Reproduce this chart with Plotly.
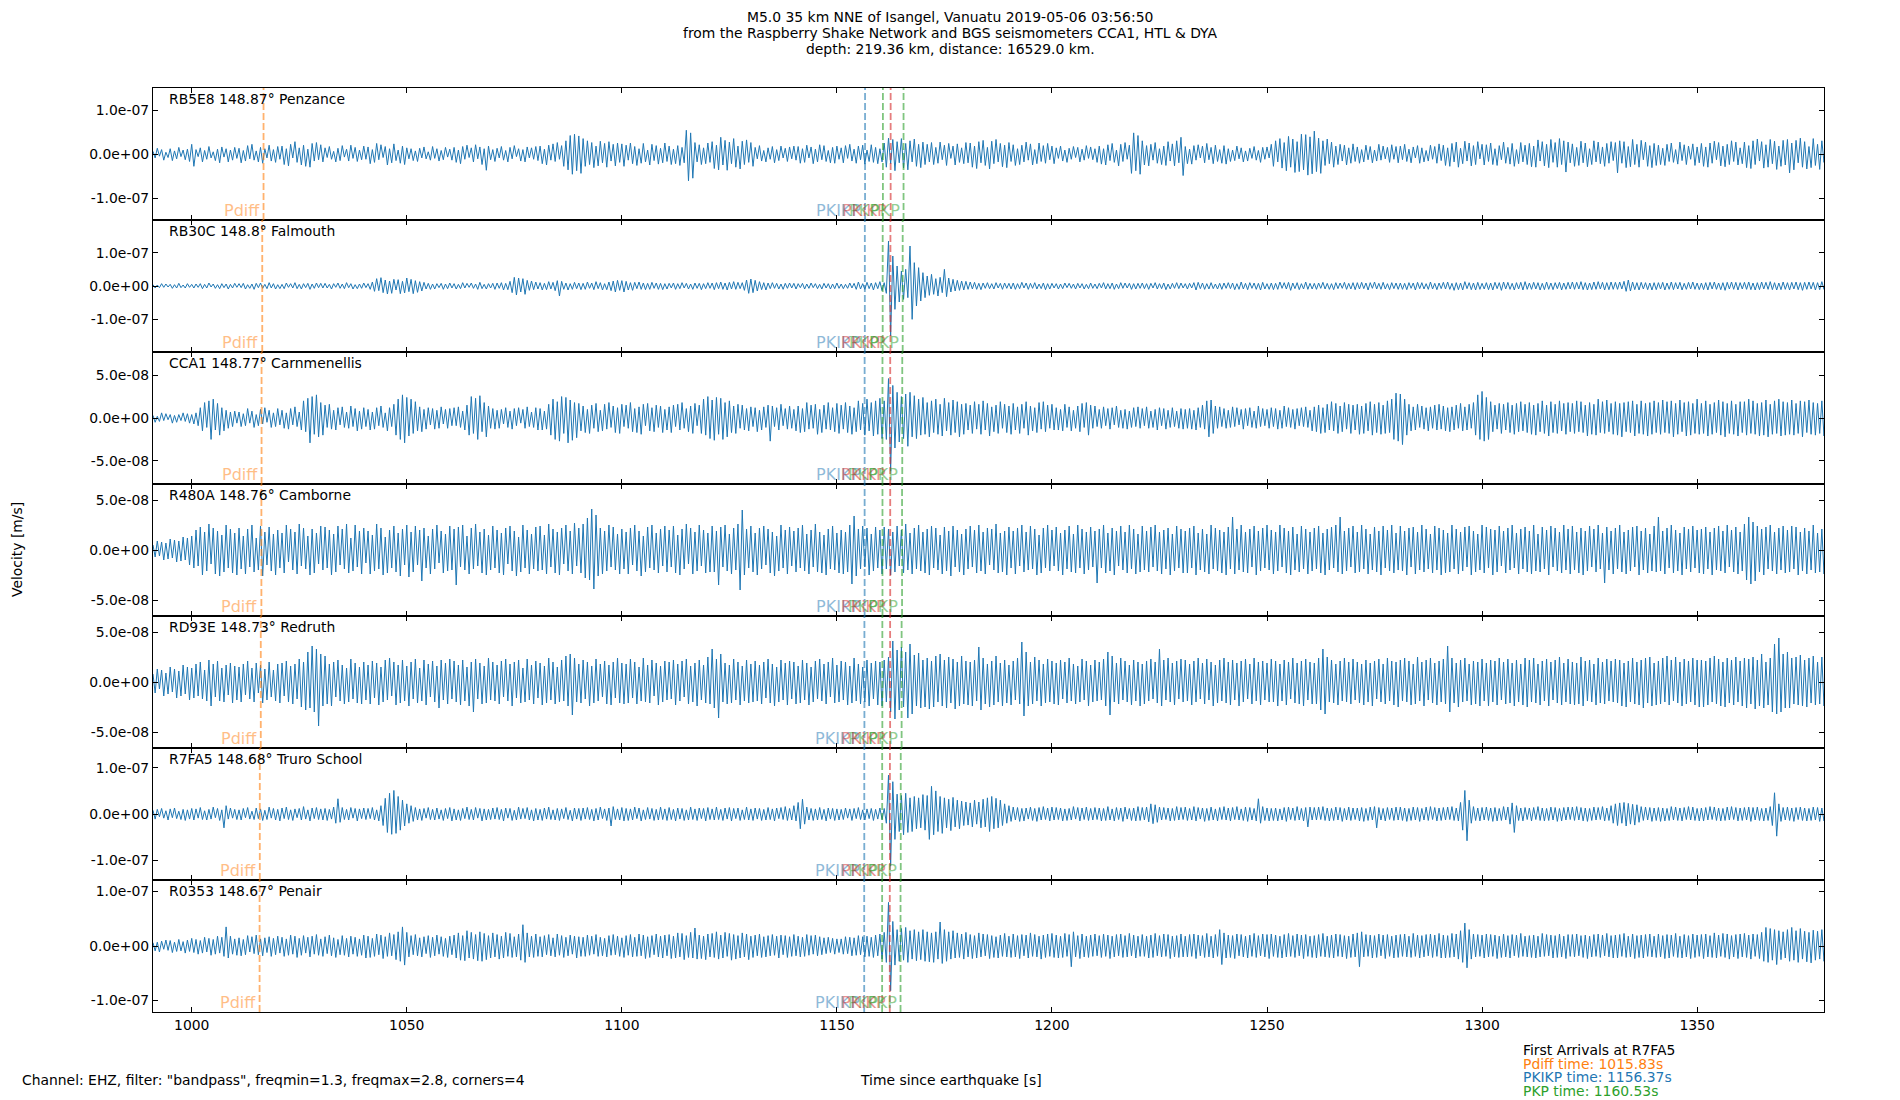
import numpy as np
import plotly.graph_objects as go
from plotly.subplots import make_subplots

# stations, top panel to bottom panel
stations = ["RB5E8", "RB30C", "CCA1", "R480A", "RD93E", "R7FA5", "R0353"]
distances = ["148.87", "148.8", "148.77", "148.76", "148.73", "148.68", "148.67"]
places = ["Penzance", "Falmouth", "Carnmenellis", "Camborne", "Redruth", "Truro School", "Penair"]

# first sample time [s]; values are half a second apart
t_start = 991
dt = 0.5

# filtered velocity peaks [nm/s], one row = 10 s
rb5e8 = [
    6, -9, 13, -5, 10, -14, 4, -8, 12, -15, 7, -11, 15, -6, 9, -13, 11, -17, 22, -28,
    10, -6, 14, -18, 8, -12, 17, -9, 5, -15, 11, -20, 16, -7, 12, -18, 9, -14, 15, -10,
    13, -20, 8, -16, 19, -11, 22, -14, 7, -18, 15, -21, 12, -9, 20, -16, 10, -19, 17, -12,
    18, -24, 12, -27, 22, -9, 28, -19, 14, -25, 20, -28, 11, -30, 24, -16, 26, -13, 21, -18,
    14, -8, 17, -12, 6, -18, 13, -15, 19, -7, 11, -16, 20, -10, 15, -17, 9, -13, 18, -12,
    16, -22, 10, -19, 24, -13, 21, -8, 17, -25, 12, -20, 23, -15, 9, -21, 18, -24, 14, -11,
    12, -15, 7, -17, 13, -9, 16, -11, 5, -14, 17, -10, 12, -16, 8, -13, 15, -7, 11, -14,
    15, -19, 9, -22, 17, -12, 20, -8, 14, -18, 21, -11, 16, -24, 12, -37, 18, -13, 10, -17,
    13, -9, 17, -14, 8, -18, 15, -11, 19, -6, 12, -16, 10, -18, 16, -9, 14, -12, 17, -15,
    18, -22, 11, -25, 20, -14, 23, -17, 26, -12, 19, -28, 30, -36, 42, -46, 45, -38, 41, -44,
    35, -28, 30, -24, 26, -31, 18, -27, 29, -20, 24, -30, 28, -16, 22, -27, 25, -19, 23, -28,
    20, -14, 25, -22, 17, -26, 12, -21, 24, -18, 9, -25, 22, -15, 19, -23, 13, -20, 25, -17,
    18, -24, 11, -22, 19, -26, 15, -20, 54, -61, 48, -55, 26, -18, 21, -24, 14, -22, 25, -19,
    28, -33, 20, -36, 38, -25, 31, -37, 27, -22, 35, -30, 18, -34, 29, -24, 32, -19, 26, -28,
    15, -11, 19, -16, 8, -18, 14, -12, 17, -20, 10, -15, 18, -9, 13, -17, 16, -11, 18, -14,
    17, -21, 12, -19, 20, -9, 16, -22, 11, -18, 21, -13, 19, -17, 8, -20, 15, -21, 18, -12,
    14, -20, 19, -10, 22, -16, 11, -21, 18, -13, 20, -23, 9, -17, 21, -19, 15, -22, 12, -18,
    25, -30, 36, -22, 33, -38, 28, -20, 35, -32, 24, -36, 30, -18, 34, -28, 22, -31, 27, -24,
    22, -18, 26, -24, 15, -21, 27, -13, 20, -26, 24, -10, 18, -25, 23, -19, 14, -22, 26, -20,
    25, -30, 18, -33, 28, -20, 31, -26, 15, -34, 29, -22, 33, -18, 24, -29, 20, -31, 26, -17,
    21, -26, 12, -24, 20, -18, 27, -14, 23, -25, 10, -22, 25, -17, 19, -21, 24, -13, 18, -22,
    14, -10, 18, -16, 9, -19, 13, -12, 17, -8, 15, -18, 11, -14, 19, -10, 16, -13, 12, -19,
    18, -23, 12, -25, 21, -15, 24, -19, 9, -27, 22, -17, 26, -12, 20, -44, 48, -38, 42, -46,
    30, -25, 19, -27, 22, -14, 26, -21, 12, -24, 18, -26, 28, -16, 23, -27, 30, -20, 38, -49,
    17, -22, 11, -23, 19, -14, 21, -9, 18, -20, 24, -13, 15, -22, 20, -17, 10, -21, 19, -23,
    12, -17, 9, -15, 18, -11, 14, -18, 7, -16, 13, -10, 17, -14, 8, -19, 15, -12, 16, -9,
    22, -28, 30, -18, 35, -32, 26, -38, 40, -30, 34, -42, 28, -40, 45, -36, 44, -48, 39, -45,
    52, -40, 36, -44, 30, -26, 34, -22, 27, -30, 18, -24, 22, -16, 20, -25, 14, -21, 23, -17,
    16, -21, 10, -18, 20, -13, 17, -20, 9, -16, 22, -14, 18, -11, 15, -19, 21, -12, 17, -20,
    18, -13, 22, -17, 11, -20, 16, -9, 19, -21, 14, -18, 8, -16, 20, -12, 17, -21, 23, -15,
    20, -26, 14, -28, 24, -18, 27, -30, 13, -22, 29, -16, 25, -27, 19, -24, 28, -11, 22, -25,
    21, -17, 25, -24, 12, -26, 19, -13, 27, -21, 15, -23, 24, -28, 10, -22, 26, -18, 20, -24,
    24, -29, 18, -30, 32, -16, 28, -27, 22, -31, 33, -19, 26, -30, 35, -24, 30, -41, 27, -20,
    23, -28, 15, -26, 29, -20, 25, -29, 12, -24, 30, -18, 27, -22, 16, -28, 24, -21, 28, -15,
    26, -43, 30, -21, 28, -31, 17, -29, 33, -24, 22, -30, 31, -13, 27, -28, 19, -31, 24, -26,
    20, -24, 13, -26, 22, -17, 25, -19, 10, -23, 27, -15, 21, -24, 18, -12, 23, -26, 16, -20,
    24, -28, 16, -30, 25, -21, 29, -13, 26, -27, 18, -29, 22, -24, 30, -17, 27, -25, 14, -22,
    27, -31, 19, -33, 30, -24, 34, -16, 28, -32, 21, -30, 33, -22, 29, -35, 18, -28, 31, -25,
    33, -43, 25, -36, 31, -20, 36, -30, 28, -34, 17, -31, 35, -26, 22, -35, 30, -19, 33, -27,
]

rb30c = [
    4, -6, 3, -5, 7, -4, 6, -3, 5, -7, 4, -6, 8, -5, 3, -6, 7, -4, 5, -6,
    6, -4, 7, -8, 5, -6, 9, -3, 6, -7, 4, -8, 7, -5, 6, -9, 5, -6, 8, -4,
    7, -5, 8, -9, 4, -7, 6, -10, 8, -5, 9, -7, 5, -8, 10, -6, 7, -9, 4, -8,
    5, -8, 9, -4, 7, -6, 10, -8, 5, -9, 7, -5, 8, -10, 6, -7, 9, -5, 8, -6,
    8, -6, 5, -9, 7, -4, 9, -7, 6, -8, 10, -5, 7, -9, 4, -8, 6, -7, 9, -5,
    7, -10, 12, -16, 22, -14, 25, -20, 18, -24, 15, -22, 20, -12, 19, -23, 14, -21, 24, -17,
    20, -23, 16, -19, 13, -15, 11, -9, 8, -10, 6, -9, 7, -5, 8, -10, 6, -8, 9, -6,
    7, -9, 5, -8, 10, -6, 8, -4, 9, -7, 6, -10, 11, -8, 5, -9, 7, -6, 8, -10,
    9, -7, 10, -12, 8, -11, 14, -20, 26, -27, 24, -18, 22, -25, 17, -13, 15, -11, 12, -9,
    10, -12, 8, -11, 13, -9, 11, -14, 16, -30, 14, -10, 9, -12, 7, -10, 11, -8, 9, -11,
    8, -10, 12, -7, 9, -11, 13, -8, 10, -12, 7, -11, 12, -14, 15, -18, 17, -13, 16, -18,
    14, -12, 10, -13, 11, -8, 12, -10, 9, -11, 8, -10, 11, -7, 9, -10, 8, -11, 7, -9,
    8, -6, 9, -10, 7, -8, 10, -6, 8, -9, 6, -10, 9, -7, 8, -11, 7, -8, 10, -7,
    9, -11, 10, -8, 12, -10, 9, -12, 11, -9, 13, -10, 11, -8, 10, -13, 18, -22, 21, -20,
    17, -15, 13, -11, 10, -12, 9, -8, 10, -7, 8, -9, 6, -10, 8, -7, 9, -6, 8, -9,
    7, -5, 8, -9, 6, -7, 9, -5, 7, -8, 5, -9, 8, -6, 7, -9, 6, -8, 9, -7,
    6, -8, 5, -7, 9, -6, 8, -10, 12, -9, 7, -10, 11, -8, 9, -12, 10, -8, 13, -14,
    10, -22, 135, -150, 90, -70, 60, -48, 45, -40, 50, -35, 120, -100, 70, -60, 55, -45, 40, -35,
    30, -28, 35, -25, 22, -30, 26, -20, 50, -32, 24, -18, 20, -15, 17, -13, 15, -12, 14, -10,
    12, -9, 11, -10, 8, -11, 9, -7, 10, -8, 7, -9, 10, -6, 8, -10, 9, -7, 8, -9,
    9, -10, 7, -8, 11, -6, 9, -10, 8, -7, 10, -9, 6, -8, 9, -11, 7, -9, 8, -6,
    7, -9, 6, -8, 9, -5, 8, -7, 6, -9, 8, -6, 7, -9, 5, -8, 9, -7, 6, -8,
    8, -6, 10, -9, 7, -8, 9, -10, 6, -8, 10, -7, 9, -6, 8, -10, 7, -9, 8, -7,
    9, -8, 7, -10, 8, -6, 10, -9, 7, -8, 9, -11, 6, -9, 8, -7, 10, -8, 9, -6,
    7, -9, 8, -6, 10, -12, 11, -8, 9, -10, 7, -9, 10, -8, 6, -9, 8, -10, 9, -7,
    10, -8, 9, -11, 7, -10, 12, -9, 8, -11, 10, -7, 9, -10, 8, -12, 11, -9, 7, -10,
    9, -11, 8, -10, 12, -7, 10, -9, 11, -13, 9, -8, 10, -11, 7, -9, 12, -10, 8, -9,
    8, -10, 9, -7, 11, -9, 8, -10, 7, -11, 10, -8, 9, -7, 11, -10, 8, -9, 10, -11,
    10, -9, 11, -8, 9, -12, 10, -7, 12, -9, 8, -10, 11, -9, 7, -11, 10, -8, 9, -10,
    9, -10, 8, -11, 10, -7, 9, -12, 11, -8, 10, -9, 7, -10, 12, -9, 8, -11, 9, -8,
    11, -9, 12, -10, 8, -13, 10, -11, 9, -12, 13, -8, 10, -11, 9, -12, 11, -10, 8, -9,
    10, -11, 9, -12, 11, -8, 10, -13, 12, -9, 11, -10, 8, -12, 10, -9, 11, -12, 13, -10,
    9, -10, 11, -9, 10, -12, 8, -11, 12, -10, 9, -11, 10, -8, 11, -12, 9, -10, 11, -9,
    12, -10, 11, -9, 13, -11, 10, -12, 9, -11, 12, -10, 13, -9, 11, -12, 10, -11, 12, -10,
    11, -10, 12, -9, 14, -16, 18, -15, 12, -11, 10, -12, 11, -9, 10, -11, 9, -12, 10, -11,
    10, -9, 11, -12, 9, -10, 12, -11, 10, -9, 11, -12, 8, -10, 11, -9, 12, -10, 9, -11,
    9, -11, 10, -12, 11, -9, 12, -10, 9, -11, 10, -13, 11, -9, 12, -10, 11, -12, 10, -9,
    11, -10, 12, -11, 9, -12, 10, -11, 12, -9, 11, -10, 13, -11, 10, -12, 9, -11, 12, -10,
    10, -12, 11, -9, 12, -11, 10, -13, 11, -10, 12, -9, 11, -12, 10, -11, 13, -10, 9, -11,
]

cca1 = [
    3, -5, 2, -4, 6, -3, 5, -2, 4, -6, 3, -5, 4, -3, 6, -4, 5, -6, 4, -7,
    6, -9, 12, -15, 18, -11, 20, -25, 22, -14, 17, -20, 12, -15, 9, -12, 7, -10, 8, -6,
    7, -10, 5, -9, 11, -6, 8, -11, 4, -9, 10, -7, 12, -5, 9, -11, 6, -10, 11, -8,
    9, -12, 6, -13, 11, -8, 13, -10, 7, -14, 20, -16, 23, -29, 25, -19, 27, -22, 18, -20,
    15, -11, 16, -13, 9, -14, 12, -8, 13, -11, 7, -12, 14, -10, 11, -15, 8, -13, 12, -10,
    10, -14, 7, -13, 12, -9, 14, -11, 6, -15, 12, -10, 16, -20, 22, -25, 27, -29, 24, -21,
    22, -18, 19, -15, 13, -16, 10, -13, 12, -8, 11, -13, 9, -12, 13, -7, 10, -12, 11, -9,
    12, -9, 13, -11, 8, -14, 15, -20, 25, -18, 23, -25, 26, -16, 18, -22, 14, -12, 11, -13,
    9, -12, 10, -7, 12, -11, 8, -13, 11, -9, 12, -6, 10, -12, 13, -10, 7, -11, 12, -14,
    11, -14, 8, -13, 16, -20, 22, -25, 19, -27, 25, -18, 24, -29, 21, -26, 18, -23, 17, -15,
    14, -17, 10, -18, 15, -12, 17, -16, 9, -15, 16, -13, 18, -11, 14, -17, 12, -18, 16, -10,
    15, -12, 18, -16, 11, -17, 13, -19, 16, -9, 17, -15, 12, -16, 15, -11, 14, -17, 10, -14,
    13, -17, 15, -10, 16, -14, 18, -12, 11, -16, 14, -18, 17, -9, 15, -18, 22, -20, 25, -24,
    21, -26, 24, -19, 23, -25, 18, -22, 20, -17, 14, -18, 16, -12, 15, -14, 11, -15, 13, -10,
    12, -16, 9, -14, 13, -11, 15, -27, 14, -10, 12, -14, 16, -9, 11, -13, 14, -12, 10, -15,
    14, -17, 11, -16, 18, -13, 15, -12, 16, -19, 10, -17, 15, -13, 18, -14, 12, -16, 17, -18,
    15, -13, 18, -17, 14, -19, 12, -16, 20, -14, 17, -20, 22, -15, 18, -21, 20, -19, 23, -24,
    20, -25, 46, -62, 38, -35, 30, -28, 25, -24, 28, -33, 30, -22, 26, -24, 22, -20, 24, -19,
    18, -22, 20, -17, 22, -19, 16, -21, 23, -15, 18, -20, 21, -17, 19, -22, 16, -19, 17, -14,
    15, -18, 19, -13, 16, -19, 20, -14, 17, -21, 13, -16, 15, -18, 19, -12, 16, -17, 14, -19,
    17, -14, 13, -18, 16, -12, 19, -20, 14, -15, 12, -17, 18, -13, 19, -16, 15, -12, 16, -14,
    12, -14, 10, -15, 16, -11, 13, -15, 9, -12, 14, -16, 17, -11, 18, -20, 15, -12, 14, -10,
    10, -12, 13, -9, 11, -13, 12, -8, 14, -11, 9, -12, 10, -13, 8, -11, 12, -10, 13, -12,
    11, -9, 13, -12, 8, -11, 10, -14, 12, -9, 11, -13, 9, -11, 12, -10, 8, -12, 11, -13,
    10, -12, 11, -13, 9, -14, 12, -11, 15, -13, 20, -22, 21, -18, 14, -12, 13, -10, 11, -12,
    9, -11, 13, -10, 12, -8, 10, -13, 11, -9, 12, -11, 8, -12, 14, -10, 11, -9, 10, -12,
    12, -10, 11, -13, 9, -12, 14, -10, 12, -11, 10, -13, 11, -9, 12, -10, 13, -11, 9, -15,
    13, -16, 15, -18, 12, -17, 16, -14, 19, -15, 17, -18, 14, -16, 18, -13, 16, -18, 15, -14,
    16, -19, 14, -18, 17, -15, 19, -20, 16, -17, 18, -19, 15, -18, 20, -17, 22, -25, 29, -27,
    28, -31, 22, -20, 16, -15, 13, -14, 16, -11, 14, -13, 12, -15, 13, -12, 15, -14, 16, -13,
    14, -15, 12, -16, 13, -14, 15, -12, 17, -15, 13, -14, 16, -12, 18, -20, 27, -25, 31, -27,
    24, -25, 19, -16, 15, -13, 17, -18, 16, -14, 18, -17, 15, -19, 17, -16, 19, -15, 16, -17,
    18, -19, 15, -20, 17, -16, 20, -18, 15, -21, 19, -17, 16, -18, 20, -15, 17, -19, 18, -16,
    17, -18, 20, -16, 19, -17, 15, -21, 18, -19, 16, -20, 22, -17, 19, -18, 21, -16, 17, -19,
    19, -20, 17, -22, 18, -16, 19, -17, 20, -21, 16, -18, 20, -19, 17, -21, 18, -19, 20, -17,
    18, -19, 21, -17, 19, -18, 20, -22, 17, -19, 21, -16, 18, -21, 19, -20, 17, -18, 22, -19,
    17, -18, 20, -21, 16, -19, 18, -17, 21, -20, 19, -22, 17, -18, 20, -19, 16, -21, 19, -17,
    19, -20, 22, -18, 20, -19, 17, -21, 18, -20, 21, -22, 16, -19, 20, -18, 22, -21, 19, -20,
    18, -19, 21, -20, 17, -18, 20, -22, 19, -17, 21, -19, 18, -20, 17, -18, 20, -21, 19, -18,
]

r480a = [
    5, -7, 9, -6, 8, -10, 7, -9, 11, -8, 10, -12, 9, -11, 13, -10, 12, -15, 14, -18,
    20, -16, 23, -25, 18, -21, 26, -14, 22, -24, 19, -26, 15, -22, 25, -18, 21, -23, 17, -25,
    22, -19, 14, -24, 21, -17, 25, -22, 12, -20, 24, -26, 18, -15, 23, -21, 16, -25, 20, -18,
    17, -23, 25, -12, 21, -20, 18, -24, 26, -16, 22, -19, 14, -25, 21, -23, 17, -14, 24, -20,
    23, -18, 20, -25, 16, -22, 24, -15, 21, -19, 26, -23, 12, -21, 25, -17, 19, -24, 22, -13,
    19, -24, 15, -21, 26, -19, 22, -25, 13, -23, 20, -18, 24, -22, 17, -26, 21, -15, 25, -27,
    18, -22, 24, -15, 20, -31, 22, -18, 14, -24, 21, -19, 25, -13, 19, -23, 16, -21, 24, -20,
    21, -35, 23, -17, 25, -20, 14, -24, 22, -19, 26, -16, 18, -23, 21, -25, 15, -20, 24, -18,
    20, -23, 17, -25, 22, -14, 24, -21, 19, -26, 13, -22, 25, -18, 20, -24, 16, -19, 23, -21,
    24, -20, 15, -24, 26, -17, 21, -23, 18, -25, 22, -14, 25, -21, 19, -24, 27, -16, 22, -23,
    26, -28, 32, -30, 41, -39, 35, -26, 22, -24, 19, -21, 25, -17, 23, -20, 16, -24, 21, -19,
    18, -24, 22, -15, 25, -21, 19, -26, 14, -22, 23, -18, 25, -20, 17, -23, 21, -16, 24, -22,
    20, -17, 24, -23, 15, -25, 21, -19, 26, -14, 22, -24, 18, -21, 25, -16, 20, -23, 17, -22,
    24, -22, 19, -35, 23, -17, 25, -21, 16, -24, 22, -20, 26, -40, 40, -25, 21, -18, 24, -22,
    17, -25, 22, -19, 24, -15, 21, -23, 18, -26, 14, -21, 25, -18, 20, -24, 23, -16, 19, -22,
    22, -18, 25, -21, 16, -24, 20, -17, 26, -22, 18, -23, 15, -25, 21, -19, 24, -20, 17, -23,
    20, -24, 18, -22, 25, -34, 34, -26, 21, -19, 24, -17, 22, -25, 16, -21, 23, -18, 20, -24,
    23, -19, 21, -25, 18, -22, 24, -16, 20, -23, 26, -20, 17, -24, 22, -19, 25, -21, 18, -23,
    21, -25, 24, -18, 22, -20, 15, -24, 23, -21, 19, -26, 24, -17, 20, -22, 16, -25, 21, -19,
    24, -17, 20, -23, 25, -21, 18, -24, 22, -15, 21, -20, 26, -23, 17, -22, 19, -25, 23, -18,
    19, -24, 22, -16, 25, -22, 18, -20, 24, -19, 21, -25, 15, -23, 22, -18, 25, -21, 20, -16,
    23, -21, 17, -25, 20, -19, 24, -22, 16, -23, 25, -18, 21, -24, 18, -20, 23, -17, 19, -33,
    21, -18, 25, -23, 17, -21, 22, -25, 19, -16, 24, -20, 18, -23, 25, -19, 21, -24, 16, -22,
    24, -20, 19, -22, 23, -17, 25, -21, 18, -24, 20, -19, 22, -25, 16, -21, 24, -18, 21, -23,
    19, -23, 22, -18, 24, -25, 17, -20, 21, -22, 16, -24, 25, -19, 22, -21, 20, -23, 18, -25,
    23, -19, 33, -24, 21, -20, 25, -22, 18, -23, 21, -17, 24, -25, 19, -21, 22, -18, 25, -20,
    20, -24, 18, -21, 25, -17, 22, -23, 19, -25, 23, -20, 16, -22, 24, -19, 21, -24, 18, -21,
    22, -19, 24, -23, 17, -25, 21, -20, 23, -18, 25, -22, 33, -24, 19, -21, 22, -17, 24, -23,
    18, -22, 25, -19, 21, -24, 16, -20, 23, -22, 19, -25, 24, -18, 20, -21, 25, -23, 17, -20,
    24, -21, 19, -25, 22, -17, 23, -24, 18, -20, 25, -22, 21, -19, 16, -23, 24, -20, 22, -25,
    20, -23, 17, -22, 25, -19, 21, -24, 18, -21, 23, -17, 24, -25, 19, -22, 16, -20, 25, -23,
    23, -18, 21, -25, 20, -22, 24, -16, 19, -23, 22, -20, 25, -18, 17, -24, 21, -19, 23, -22,
    19, -24, 25, -21, 16, -22, 23, -19, 20, -25, 24, -17, 22, -21, 18, -23, 25, -20, 21, -24,
    24, -20, 18, -23, 22, -25, 19, -21, 24, -17, 21, -22, 25, -19, 17, -33, 23, -20, 19, -24,
    22, -19, 25, -22, 18, -24, 20, -21, 23, -17, 24, -25, 19, -20, 22, -23, 16, -21, 24, -22,
    33, -21, 19, -24, 22, -18, 25, -23, 20, -21, 17, -25, 23, -19, 21, -22, 24, -18, 20, -23,
    21, -24, 23, -19, 18, -25, 22, -20, 24, -21, 19, -23, 25, -17, 20, -22, 23, -24, 18, -21,
    26, -30, 33, -34, 28, -31, 24, -22, 21, -25, 23, -19, 25, -21, 18, -24, 22, -20, 24, -23,
    20, -22, 24, -19, 23, -25, 18, -21, 22, -24, 19, -20, 25, -23, 17, -22, 21, -24, 19, -21,
]

rd93e = [
    8, -11, 13, -7, 12, -14, 9, -12, 15, -10, 13, -16, 11, -14, 17, -12, 15, -18, 14, -16,
    18, -14, 20, -17, 12, -19, 22, -24, 18, -15, 21, -19, 14, -20, 17, -13, 19, -21, 16, -18,
    15, -20, 18, -13, 21, -17, 14, -20, 19, -11, 17, -21, 13, -18, 20, -15, 12, -19, 18, -21,
    19, -14, 21, -20, 16, -22, 18, -17, 23, -25, 20, -28, 30, -26, 36, -30, 33, -44, 28, -24,
    26, -22, 18, -24, 20, -15, 22, -19, 17, -22, 14, -20, 23, -17, 19, -21, 15, -22, 20, -18,
    17, -22, 21, -16, 19, -23, 15, -20, 22, -18, 24, -14, 20, -23, 17, -21, 22, -19, 16, -24,
    20, -17, 23, -21, 14, -19, 22, -23, 18, -15, 21, -20, 16, -26, 22, -18, 19, -22, 23, -17,
    21, -20, 17, -23, 22, -19, 15, -24, 20, -30, 23, -17, 19, -22, 16, -21, 24, -18, 20, -19,
    17, -22, 21, -15, 23, -19, 18, -24, 20, -16, 22, -21, 14, -20, 23, -18, 17, -22, 21, -16,
    19, -23, 16, -21, 24, -18, 20, -22, 15, -20, 22, -19, 26, -24, 28, -33, 24, -20, 18, -21,
    22, -17, 20, -24, 16, -21, 23, -19, 18, -15, 21, -22, 17, -23, 20, -16, 24, -21, 19, -22,
    18, -21, 23, -16, 20, -22, 15, -19, 24, -20, 17, -21, 22, -14, 19, -23, 16, -20, 21, -18,
    20, -17, 22, -23, 18, -19, 21, -15, 23, -22, 16, -20, 19, -24, 22, -18, 17, -21, 25, -22,
    33, -26, 23, -36, 28, -20, 19, -22, 17, -21, 23, -18, 20, -23, 16, -19, 22, -21, 18, -20,
    21, -19, 17, -22, 20, -16, 23, -21, 18, -24, 15, -20, 22, -18, 19, -23, 21, -17, 20, -22,
    16, -21, 22, -18, 19, -23, 15, -20, 21, -17, 23, -19, 18, -22, 20, -15, 24, -21, 17, -20,
    21, -18, 20, -23, 16, -21, 24, -19, 18, -22, 15, -20, 22, -24, 19, -17, 21, -23, 20, -24,
    22, -20, 25, -30, 41, -37, 32, -28, 35, -25, 30, -36, 38, -32, 27, -24, 29, -26, 22, -25,
    24, -27, 21, -25, 26, -20, 28, -24, 22, -26, 25, -21, 23, -27, 20, -24, 26, -22, 21, -23,
    20, -24, 22, -19, 35, -28, 24, -22, 18, -25, 21, -23, 26, -20, 19, -24, 22, -21, 17, -23,
    21, -18, 24, -22, 40, -34, 30, -24, 20, -22, 25, -19, 22, -24, 18, -21, 23, -20, 21, -22,
    19, -23, 22, -17, 20, -21, 24, -19, 18, -22, 16, -20, 23, -18, 21, -24, 17, -20, 22, -19,
    20, -18, 23, -24, 30, -33, 26, -20, 19, -22, 24, -18, 21, -20, 17, -23, 22, -19, 20, -24,
    18, -22, 21, -19, 23, -17, 20, -21, 33, -24, 22, -18, 24, -20, 19, -23, 21, -17, 23, -20,
    22, -19, 18, -23, 21, -20, 24, -17, 19, -22, 23, -18, 20, -24, 17, -21, 22, -19, 24, -21,
    20, -23, 22, -18, 19, -24, 21, -20, 23, -17, 18, -22, 24, -19, 20, -23, 21, -18, 19, -20,
    23, -20, 21, -24, 18, -19, 22, -23, 20, -17, 24, -21, 19, -22, 21, -24, 23, -18, 20, -22,
    19, -22, 24, -28, 33, -32, 25, -20, 22, -21, 18, -23, 21, -19, 24, -20, 20, -22, 23, -18,
    20, -21, 18, -23, 22, -20, 19, -24, 21, -17, 23, -20, 18, -22, 24, -19, 21, -23, 20, -25,
    22, -19, 24, -20, 21, -23, 18, -22, 25, -19, 20, -24, 22, -18, 24, -21, 19, -23, 21, -20,
    23, -22, 36, -30, 24, -21, 19, -25, 22, -20, 24, -19, 18, -23, 21, -22, 20, -24, 23, -19,
    19, -24, 22, -20, 21, -23, 24, -18, 20, -22, 23, -21, 19, -24, 22, -20, 18, -23, 24, -25,
    22, -20, 24, -21, 18, -23, 21, -19, 23, -24, 20, -18, 22, -21, 25, -23, 19, -20, 23, -22,
    20, -23, 19, -22, 25, -24, 21, -19, 22, -20, 18, -23, 24, -21, 20, -22, 23, -19, 21, -20,
    23, -21, 22, -24, 19, -25, 21, -20, 24, -22, 20, -23, 22, -26, 24, -21, 25, -24, 19, -23,
    21, -22, 24, -20, 26, -23, 22, -19, 25, -21, 20, -24, 23, -22, 21, -20, 24, -23, 22, -25,
    22, -25, 21, -23, 24, -20, 26, -22, 23, -24, 20, -25, 24, -21, 22, -23, 25, -20, 21, -24,
    24, -26, 23, -22, 25, -27, 22, -24, 28, -26, 20, -23, 24, -30, 38, -32, 44, -30, 28, -26,
    30, -26, 24, -22, 25, -23, 27, -24, 22, -25, 24, -21, 26, -23, 20, -22, 25, -24, 23, -21,
]

r7fa5 = [
    8, -11, 10, -6, 12, -9, 7, -13, 11, -8, 13, -10, 6, -12, 10, -14, 9, -11, 12, -13,
    11, -9, 14, -12, 7, -13, 10, -11, 15, -8, 12, -14, 9, -30, 18, -11, 13, -9, 10, -12,
    9, -13, 12, -8, 14, -11, 6, -12, 13, -10, 11, -14, 8, -12, 15, -9, 12, -13, 10, -15,
    13, -10, 15, -12, 9, -14, 11, -8, 12, -13, 16, -11, 9, -15, 13, -10, 14, -12, 11, -13,
    12, -14, 10, -11, 15, -20, 33, -18, 14, -12, 10, -13, 14, -9, 12, -15, 11, -10, 13, -12,
    12, -10, 14, -13, 9, -15, 18, -25, 34, -40, 45, -44, 51, -42, 38, -35, 30, -26, 22, -20,
    18, -16, 14, -13, 11, -14, 12, -9, 14, -12, 10, -13, 13, -11, 9, -14, 12, -10, 14, -15,
    11, -13, 9, -14, 12, -10, 15, -12, 10, -13, 14, -9, 12, -15, 11, -13, 10, -12, 13, -11,
    14, -12, 10, -15, 13, -9, 12, -14, 8, -13, 15, -11, 12, -10, 14, -13, 9, -15, 12, -13,
    10, -14, 13, -11, 15, -12, 9, -13, 12, -14, 11, -10, 14, -12, 8, -15, 13, -11, 12, -14,
    13, -11, 14, -12, 10, -15, 12, -13, 15, -10, 11, -14, 13, -26, 16, -12, 11, -13, 14, -15,
    12, -14, 11, -13, 15, -10, 13, -15, 9, -12, 14, -11, 12, -14, 10, -13, 15, -12, 11, -14,
    14, -12, 10, -15, 13, -11, 12, -14, 9, -13, 15, -12, 11, -14, 13, -10, 12, -15, 14, -12,
    11, -13, 15, -12, 10, -14, 13, -11, 14, -15, 12, -10, 13, -14, 9, -12, 15, -13, 11, -14,
    13, -11, 12, -14, 10, -13, 14, -12, 11, -15, 13, -10, 14, -12, 16, -14, 12, -13, 18, -15,
    25, -32, 32, -22, 15, -13, 12, -14, 11, -13, 14, -12, 10, -15, 13, -11, 12, -14, 11, -13,
    10, -12, 13, -9, 11, -14, 12, -10, 14, -12, 9, -13, 11, -10, 12, -14, 10, -11, 13, -12,
    12, -20, 84, -113, 70, -55, 43, -38, 40, -45, 45, -40, 35, -38, 38, -32, 35, -30, 42, -35,
    40, -55, 60, -45, 50, -38, 38, -42, 35, -30, 32, -36, 36, -28, 30, -32, 28, -25, 26, -24,
    24, -28, 30, -22, 26, -30, 32, -28, 35, -38, 38, -32, 34, -30, 30, -25, 22, -20, 18, -16,
    15, -13, 14, -16, 12, -15, 13, -11, 15, -14, 12, -16, 14, -13, 16, -12, 13, -15, 15, -13,
    14, -12, 13, -15, 11, -14, 12, -13, 16, -11, 14, -15, 13, -12, 15, -14, 12, -13, 14, -12,
    13, -15, 12, -14, 16, -13, 11, -15, 14, -12, 13, -16, 15, -11, 12, -14, 13, -15, 16, -14,
    14, -13, 15, -17, 22, -21, 20, -18, 15, -13, 14, -12, 13, -15, 12, -14, 16, -13, 14, -12,
    15, -14, 12, -13, 16, -15, 14, -11, 13, -16, 12, -14, 15, -13, 11, -15, 14, -12, 16, -13,
    13, -15, 14, -12, 16, -13, 11, -14, 15, -16, 14, -13, 12, -15, 33, -20, 16, -14, 13, -15,
    12, -14, 13, -15, 11, -13, 14, -16, 15, -12, 13, -14, 16, -13, 12, -15, 14, -28, 15, -13,
    14, -13, 15, -12, 16, -14, 13, -15, 12, -14, 15, -13, 14, -16, 12, -13, 15, -14, 13, -12,
    13, -15, 14, -16, 12, -14, 15, -13, 16, -30, 14, -13, 12, -15, 14, -12, 13, -14, 15, -13,
    15, -14, 13, -16, 12, -14, 15, -13, 14, -16, 12, -13, 15, -14, 16, -12, 14, -15, 13, -14,
    14, -13, 15, -12, 16, -14, 13, -15, 25, -35, 51, -58, 30, -20, 16, -14, 13, -15, 14, -13,
    15, -14, 13, -16, 14, -15, 12, -14, 16, -13, 15, -22, 24, -40, 18, -14, 13, -15, 14, -12,
    13, -15, 14, -12, 16, -14, 13, -15, 12, -14, 15, -13, 14, -16, 12, -15, 14, -13, 15, -12,
    15, -14, 16, -13, 14, -15, 13, -16, 12, -14, 15, -13, 14, -12, 16, -15, 13, -14, 18, -20,
    22, -25, 24, -20, 25, -26, 23, -22, 21, -24, 20, -18, 16, -14, 15, -13, 14, -16, 13, -14,
    14, -16, 13, -15, 12, -14, 16, -13, 15, -14, 13, -15, 14, -12, 16, -13, 15, -14, 12, -15,
    13, -15, 14, -13, 16, -12, 15, -14, 13, -15, 12, -14, 15, -13, 16, -12, 14, -15, 13, -14,
    14, -13, 15, -16, 14, -13, 15, -14, 12, -15, 13, -14, 16, -25, 46, -48, 22, -16, 14, -13,
    15, -14, 13, -16, 14, -12, 15, -14, 13, -15, 12, -14, 15, -13, 14, -16, 13, -15, 14, -12,
]

r0353 = [
    6, -9, 7, -11, 9, -6, 11, -8, 10, -12, 7, -10, 12, -9, 8, -13, 11, -10, 14, -12,
    12, -15, 10, -13, 16, -11, 14, -17, 12, -15, 18, -13, 16, -19, 35, -22, 18, -15, 13, -17,
    15, -18, 12, -16, 19, -11, 17, -14, 20, -16, 13, -18, 15, -12, 17, -19, 14, -16, 18, -13,
    16, -19, 13, -17, 20, -15, 18, -21, 14, -17, 19, -13, 16, -20, 18, -15, 21, -17, 13, -19,
    17, -14, 20, -18, 15, -21, 12, -16, 19, -17, 14, -20, 18, -15, 16, -19, 13, -17, 20, -22,
    18, -21, 14, -19, 22, -16, 20, -23, 17, -19, 24, -18, 21, -25, 26, -28, 35, -35, 25, -20,
    19, -16, 21, -18, 15, -20, 17, -14, 19, -21, 16, -18, 20, -15, 17, -19, 14, -21, 18, -16,
    20, -22, 24, -26, 19, -27, 28, -22, 25, -24, 21, -27, 26, -28, 23, -25, 19, -22, 24, -20,
    21, -24, 18, -22, 25, -19, 23, -21, 17, -20, 22, -26, 39, -30, 24, -20, 18, -21, 22, -19,
    17, -20, 19, -16, 21, -18, 15, -20, 22, -17, 19, -21, 16, -18, 20, -15, 18, -22, 17, -19,
    16, -19, 20, -17, 18, -15, 21, -19, 16, -18, 14, -20, 19, -17, 21, -16, 18, -19, 15, -21,
    19, -17, 21, -20, 16, -19, 22, -18, 20, -23, 17, -21, 19, -16, 22, -20, 18, -22, 20, -18,
    21, -23, 18, -22, 24, -20, 23, -25, 19, -21, 25, -22, 33, -24, 20, -23, 18, -25, 22, -20,
    23, -21, 26, -24, 20, -22, 25, -19, 23, -26, 21, -24, 19, -22, 24, -20, 22, -25, 18, -21,
    20, -18, 22, -21, 17, -20, 19, -18, 21, -17, 18, -22, 20, -16, 19, -21, 17, -19, 21, -18,
    18, -20, 16, -19, 21, -17, 19, -15, 20, -18, 17, -16, 15, -14, 16, -12, 14, -15, 13, -12,
    13, -15, 17, -14, 16, -18, 15, -17, 19, -16, 17, -20, 18, -19, 16, -21, 20, -18, 22, -24,
    25, -30, 80, -82, 45, -35, 30, -28, 32, -26, 34, -30, 28, -24, 30, -27, 26, -25, 30, -28,
    26, -29, 24, -30, 26, -24, 44, -32, 30, -28, 26, -24, 28, -22, 24, -21, 22, -24, 25, -20,
    21, -23, 19, -22, 24, -20, 22, -18, 21, -23, 19, -21, 17, -22, 20, -19, 23, -20, 18, -21,
    22, -20, 19, -23, 21, -18, 20, -22, 24, -19, 21, -20, 18, -24, 20, -21, 22, -19, 23, -21,
    20, -22, 18, -21, 23, -19, 21, -38, 26, -20, 19, -23, 22, -20, 18, -21, 20, -19, 22, -18,
    19, -21, 22, -19, 20, -23, 18, -20, 21, -18, 22, -21, 19, -20, 23, -18, 20, -22, 18, -19,
    21, -19, 18, -22, 20, -21, 23, -18, 19, -20, 22, -19, 21, -23, 18, -20, 19, -21, 22, -20,
    18, -20, 21, -19, 22, -23, 20, -18, 19, -21, 23, -20, 18, -22, 21, -19, 30, -34, 24, -22,
    20, -21, 19, -23, 22, -18, 21, -20, 18, -22, 20, -19, 23, -21, 19, -18, 22, -20, 21, -23,
    22, -19, 20, -21, 18, -22, 21, -20, 23, -19, 19, -21, 22, -18, 20, -23, 21, -19, 18, -21,
    19, -22, 21, -19, 23, -20, 18, -21, 20, -22, 22, -19, 21, -20, 19, -23, 18, -21, 22, -20,
    24, -38, 26, -20, 21, -19, 20, -22, 19, -21, 22, -18, 20, -23, 21, -19, 18, -22, 20, -21,
    21, -19, 22, -20, 18, -21, 23, -19, 20, -22, 19, -20, 21, -18, 22, -21, 20, -19, 23, -22,
    20, -22, 19, -21, 23, -20, 22, -24, 28, -30, 42, -40, 30, -24, 22, -20, 21, -19, 20, -22,
    22, -20, 21, -19, 20, -23, 18, -21, 22, -20, 19, -22, 21, -18, 20, -21, 23, -19, 18, -20,
    19, -21, 20, -22, 18, -20, 23, -19, 21, -18, 20, -22, 19, -21, 22, -20, 18, -23, 21, -19,
    21, -20, 22, -18, 19, -21, 20, -23, 18, -20, 21, -19, 22, -21, 20, -18, 23, -20, 19, -22,
    20, -22, 21, -19, 23, -21, 18, -20, 22, -23, 19, -21, 20, -22, 21, -19, 22, -20, 18, -21,
    22, -20, 19, -23, 21, -22, 20, -19, 23, -21, 18, -22, 21, -20, 19, -23, 22, -21, 20, -19,
    21, -23, 22, -20, 19, -21, 24, -22, 20, -19, 23, -21, 22, -24, 19, -20, 21, -23, 22, -20,
    23, -21, 20, -24, 22, -19, 21, -23, 25, -28, 34, -30, 32, -26, 30, -34, 28, -25, 26, -22,
    30, -28, 34, -26, 28, -30, 32, -24, 27, -29, 25, -31, 29, -26, 27, -24, 30, -28, 24, -26,
]

traces = [rb5e8, rb30c, cca1, r480a, rd93e, r7fa5, r0353]

# predicted arrivals [s] per station
phases = ["Pdiff", "PKIKP", "PKP", "PKiKP", "PKP"]
phase_colors = ["#ff7f0e", "#1f77b4", "#2ca02c", "#d62728", "#2ca02c"]
pdiff_t = [1016.7, 1016.4, 1016.24, 1016.2, 1016.06, 1015.83, 1015.78]
pkikp_t = [1156.55, 1156.5, 1156.45, 1156.45, 1156.4, 1156.37, 1156.35]
pkp_t = [1160.7, 1160.65, 1160.6, 1160.6, 1160.57, 1160.53, 1160.52]
pkikp2_t = [1162.5, 1162.45, 1162.4, 1162.4, 1162.38, 1162.33, 1162.3]
pkp2_t = [1165.5, 1165.3, 1165.2, 1165.15, 1165.05, 1164.85, 1164.8]
arrivals = [pdiff_t, pkikp_t, pkp_t, pkikp2_t, pkp2_t]

# first arrivals at R7FA5 for the note in the corner
first_phases = ["Pdiff", "PKIKP", "PKP"]
first_times = [1015.83, 1156.37, 1160.53]
first_colors = ["#ff7f0e", "#1f77b4", "#2ca02c"]

# y limits and tick steps per panel [m/s]
ylims = [1.5e-7, 1.98e-7, 7.7e-8, 6.6e-8, 6.6e-8, 1.43e-7, 1.21e-7]
ysteps = [1e-7, 1e-7, 5e-8, 5e-8, 5e-8, 1e-7, 1e-7]

W, H = 1900, 1100
L, R, T, B = 153, 76, 88, 88
FONT = "DejaVu Sans"
FS = 13.9


def xp(px):
    return (px - L) / (W - L - R)


def yp(py):
    return 1 - (py - T) / (H - T - B)


fig = make_subplots(rows=7, cols=1, shared_xaxes=True, vertical_spacing=0)

for i, vals in enumerate(traces):
    r = i + 1
    ax = "" if r == 1 else str(r)
    v = np.array(vals, dtype=float) * 1e-9
    t = t_start + dt * np.arange(len(v))
    fig.add_trace(go.Scatter(x=t, y=v, mode="lines",
                             line=dict(color="#1f77b4", width=1.0),
                             hoverinfo="skip", showlegend=False),
                  row=r, col=1)

    for ph, col, times in zip(phases, phase_colors, arrivals):
        fig.add_shape(type="line", xref="x" + ax, yref="y" + ax + " domain",
                      x0=times[i], x1=times[i], y0=0, y1=1,
                      line=dict(color=col, width=1.8, dash="7px,3px"),
                      opacity=0.6)
        fig.add_annotation(xref="x" + ax, yref="y" + ax + " domain",
                           x=times[i], y=0, text=ph, showarrow=False,
                           xanchor="right", yanchor="bottom", xshift=-2, yshift=-2,
                           font=dict(color=col, size=16), opacity=0.5)

    fig.add_annotation(xref="x" + ax + " domain", yref="y" + ax + " domain",
                       x=14 / (W - L - R), y=1, yshift=-1,
                       text=f"{stations[i]} {distances[i]}° {places[i]}",
                       showarrow=False, xanchor="left", yanchor="top")

    s = ysteps[i]
    fig.update_yaxes(row=r, col=1, range=[-ylims[i], ylims[i]],
                     tickvals=[-s, 0, s],
                     ticktext=[f"{q:.1e}" for q in (-s, 0.0, s)])

fig.update_xaxes(range=[991, 1379.5], tickvals=list(range(1000, 1351, 50)),
                 ticks="inside", ticklen=5, tickcolor="black",
                 showline=True, linecolor="black", linewidth=1.2,
                 mirror="allticks", showgrid=False, zeroline=False)
fig.update_xaxes(showticklabels=True, row=7, col=1)
fig.update_yaxes(ticks="inside", ticklen=5, tickcolor="black",
                 showline=True, linecolor="black", linewidth=1.2,
                 mirror="allticks", showgrid=False, zeroline=False)

title_lines = [
    "M5.0 35 km NNE of Isangel, Vanuatu 2019-05-06 03:56:50",
    "from the Raspberry Shake Network and BGS seismometers CCA1, HTL & DYA",
    "depth: 219.36 km, distance: 16529.0 km.",
]
for k, line in enumerate(title_lines):
    fig.add_annotation(xref="paper", yref="paper", x=xp(950), y=yp(17 + 16 * k),
                       text=line, showarrow=False, xanchor="center", yanchor="middle")

fig.add_annotation(xref="paper", yref="paper", x=xp(17), y=yp(550),
                   text="Velocity [m/s]", textangle=-90, showarrow=False,
                   xanchor="center", yanchor="middle")
fig.add_annotation(xref="paper", yref="paper", x=xp(20), y=yp(1080),
                   text='Channel: EHZ, filter: "bandpass", freqmin=1.3, freqmax=2.8, corners=4',
                   showarrow=False, xanchor="left", yanchor="middle")
fig.add_annotation(xref="paper", yref="paper", x=xp(951), y=yp(1080),
                   text="Time since earthquake [s]", showarrow=False,
                   xanchor="center", yanchor="middle")

fig.add_annotation(xref="paper", yref="paper", x=xp(1521), y=yp(1050),
                   text="First Arrivals at R7FA5", showarrow=False,
                   xanchor="left", yanchor="middle")
for k, (ph, tt, col) in enumerate(zip(first_phases, first_times, first_colors)):
    fig.add_annotation(xref="paper", yref="paper", x=xp(1521), y=yp(1063.5 + 13.5 * k),
                       text=f"{ph} time: {tt:.2f}s", showarrow=False,
                       xanchor="left", yanchor="middle", font=dict(color=col))

fig.update_layout(width=W, height=H, margin=dict(l=L, r=R, t=T, b=B),
                  paper_bgcolor="white", plot_bgcolor="white",
                  font=dict(family=FONT, size=FS, color="black"),
                  showlegend=False)

fig.write_html("out.html", config={"displayModeBar": False},
               post_script="document.body.style.margin='0';")
